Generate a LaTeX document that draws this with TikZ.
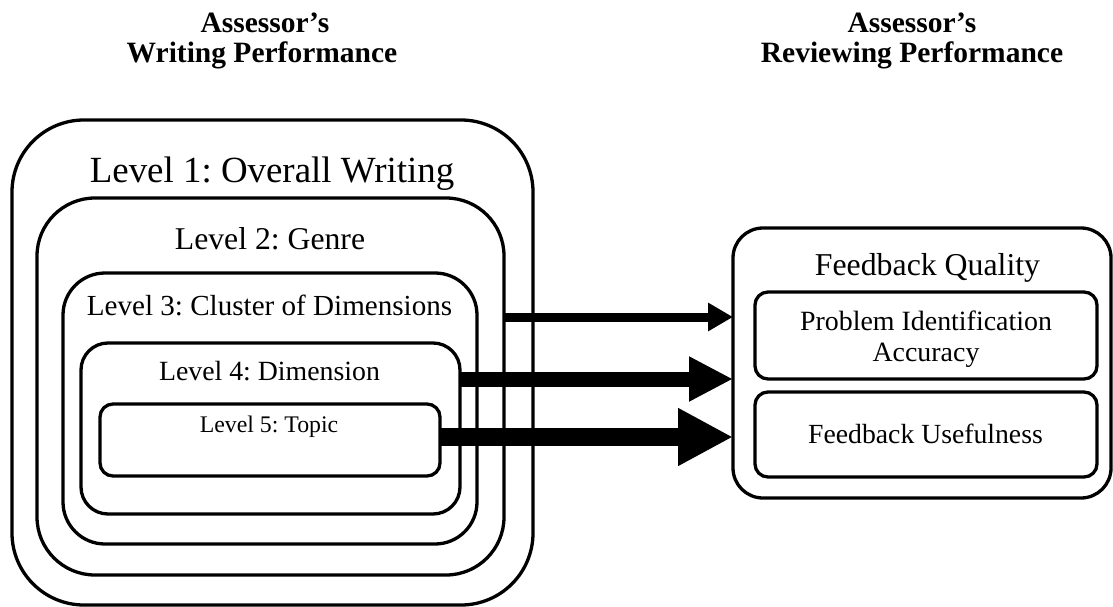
\documentclass[tikz,border=0pt]{standalone}
\usepackage{fontspec}
\setmainfont{Liberation Serif}
\usetikzlibrary{arrows.meta}
\frenchspacing

\tikzset{
  lvl/.style={draw, line width=3.3pt, rounded corners=#1, inner sep=0pt, outer sep=0pt},
  txt/.style={anchor=base, inner sep=0pt, font=#1},
  head/.style={anchor=base, inner sep=0pt, align=center, font=\fontsize{29.5}{30}\selectfont\bfseries},
  link/.style={line width=#1},
}

\begin{document}
\frenchspacing
\begin{tikzpicture}[x=1pt, y=-1pt]
\useasboundingbox (0,0) rectangle (1113,607);

% column headings
\node[head] (hw1) at (265,33) {Assessor’s};
\node[head] (hw2) at (262,63) {Writing Performance};
\node[head] (hr1) at (912,33) {Assessor’s};
\node[head] (hr2) at (912,63) {Reviewing Performance};

% nested levels of writing performance
\node[lvl=72pt, minimum width=521pt, minimum height=485pt] (L1) at (272.5,362.5) {};
\node[lvl=58pt, minimum width=467pt, minimum height=377pt] (L2) at (270.5,386.5) {};
\node[lvl=42pt, minimum width=414pt, minimum height=271pt] (L3) at (270,408.5) {};
\node[lvl=27pt, minimum width=379pt, minimum height=171pt] (L4) at (270.5,428.5) {};
\node[lvl=13pt, minimum width=340pt, minimum height=72pt] (L5) at (270,440) {};

\node[txt=\fontsize{36.9}{40}\selectfont] (t1) at (272,182) {Level 1: Overall Writing};
\node[txt=\fontsize{31.7}{34}\selectfont] (t2) at (270,249) {Level 2: Genre};
\node[txt=\fontsize{29.1}{32}\selectfont] (t3) at (269.5,315) {Level 3: Cluster of Dimensions};
\node[txt=\fontsize{27.8}{30}\selectfont] (t4) at (269.5,380) {Level 4: Dimension};
\node[txt=\fontsize{23.8}{26}\selectfont] (t5) at (269,432) {Level 5: Topic};

% reviewing performance
\node[lvl=30pt, minimum width=378pt, minimum height=270pt] (fq) at (922,363) {};
\node[lvl=13pt, minimum width=342pt, minimum height=87pt] (pia) at (926,335.5) {};
\node[lvl=13pt, minimum width=342pt, minimum height=85pt] (fu) at (926,434.5) {};

\node[txt=\fontsize{31.8}{34}\selectfont] (tq) at (927.5,275) {Feedback Quality};
\node[txt=\fontsize{27.9}{30}\selectfont] (tp1) at (926,330) {Problem Identification};
\node[txt=\fontsize{27.9}{30}\selectfont] (tp2) at (926,361) {Accuracy};
\node[txt=\fontsize{27.7}{30}\selectfont] (tu) at (925.5,443) {Feedback Usefulness};

% arrows growing with the level of detail
\draw[link=9pt, -{Triangle[length=25pt, width=27pt]}]
  (L2.east |- 0,317) -- (fq.west |- 0,317);
\draw[link=15pt, -{Triangle[length=44pt, width=42pt]}]
  (L4.east |- 0,379) -- (fq.west |- 0,379);
\draw[link=18pt, -{Triangle[length=55pt, width=54pt]}]
  (L5.east |- 0,437) -- (fq.west |- 0,437);

\end{tikzpicture}
\end{document}
